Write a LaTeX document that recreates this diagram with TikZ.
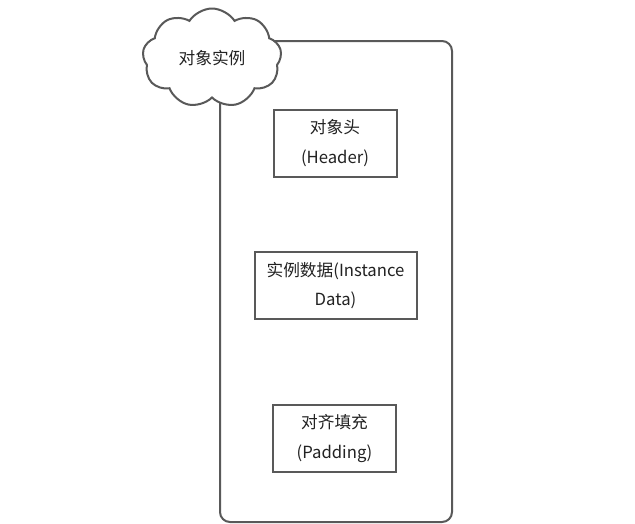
\documentclass[tikz,border=0pt]{standalone}
\usepackage{fontspec}
\setmainfont{Noto Sans CJK SC}
\usetikzlibrary{shapes.symbols}
\definecolor{lc}{HTML}{595959}
\definecolor{tc}{HTML}{222222}
\tikzset{
  part/.style={draw=lc, line width=2pt, rectangle, align=center, text=tc, font=\fontsize{16.7}{29.5}\selectfont, inner sep=0pt},
  container/.style={draw=lc, line width=2pt, rounded corners=10pt},
  cloudnode/.style={cloud, draw=lc, fill=white, line width=2pt, cloud puffs=9, cloud puff arc=115, aspect=1.4, text=tc, font=\fontsize{16.7}{20}\selectfont, inner sep=0pt}
}
\begin{document}
\begin{tikzpicture}[x=1pt,y=-1pt]
\useasboundingbox (0,0) rectangle (635,523);
\fill[white] (0,0) rectangle (635,523);
\node[container, minimum width=232pt, minimum height=481pt] (box) at (336,281.5) {};
\node[cloudnode, minimum width=139pt, minimum height=99pt] (cl) at (212,58) {对象实例};
\node[part, minimum width=123pt, minimum height=67pt] (hdr) at (335,143) {对象头\\(Header)};
\node[part, minimum width=162pt, minimum height=67pt] (inst) at (335.5,285.5) {实例数据(Instance\\Data)};
\node[part, minimum width=123pt, minimum height=67pt] (pad) at (334.5,438.5) {对齐填充\\(Padding)};
\end{tikzpicture}
\end{document}
